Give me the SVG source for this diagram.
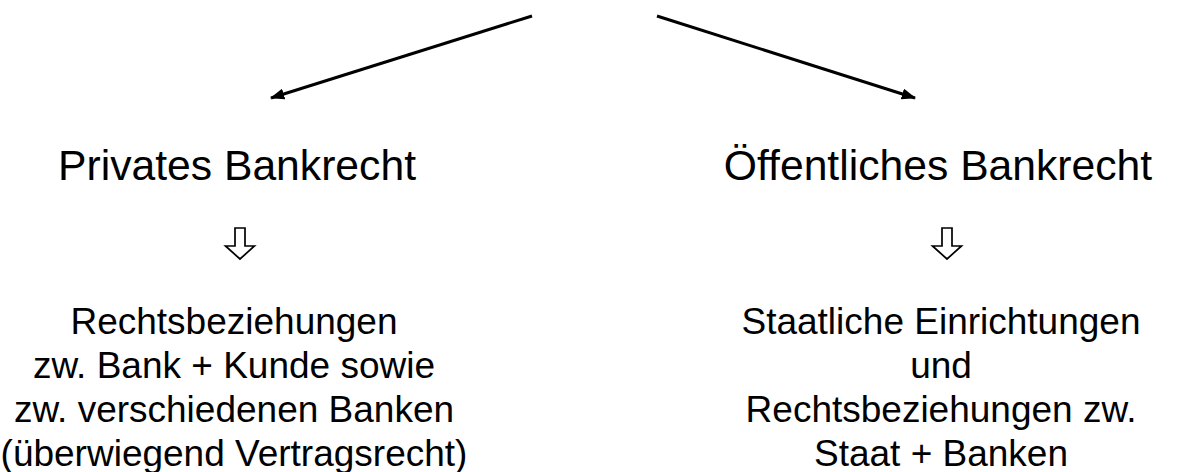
<svg xmlns="http://www.w3.org/2000/svg" width="1178" height="472" viewBox="0 0 1178 472">
  <style>
    text { font-family: "Liberation Sans", Arial, sans-serif; fill: #000; text-anchor: middle; }
    .title { font-size: 42.67px; }
    .body { font-size: 37px; }
    .conn { stroke: #000; stroke-width: 3; fill: none; }
    .hollow { fill: #fff; stroke: #000; stroke-width: 1.7; stroke-linejoin: miter; }
  </style>
  <defs>
    <marker id="head" viewBox="0 0 13 10" refX="12" refY="5" markerWidth="4.8" markerHeight="3.7" orient="auto" markerUnits="strokeWidth">
      <path d="M0,0 L13,5 L0,10 z" fill="#000"/>
    </marker>
    <!-- hollow downward arrow, origin at top centre of the stem -->
    <path id="downArrow" class="hollow" d="M-5,0 H5 V18 H14.5 L0,31 L-14.5,18 H-5 Z"/>
  </defs>
  <rect width="1178" height="472" fill="#fff"/>

  <g id="connectors">
    <line class="conn" x1="532" y1="16" x2="271" y2="98" marker-end="url(#head)"/>
    <line class="conn" x1="657" y1="16" x2="915" y2="98" marker-end="url(#head)"/>
  </g>

  <g id="privat">
    <text class="title" x="237" y="180">Privates Bankrecht</text>
    <use href="#downArrow" x="240" y="228"/>
    <text class="body" x="234" y="334">Rechtsbeziehungen</text>
    <text class="body" x="234" y="378">zw. Bank + Kunde sowie</text>
    <text class="body" x="234" y="422">zw. verschiedenen Banken</text>
    <text class="body" x="234" y="466">(überwiegend Vertragsrecht)</text>
  </g>

  <g id="oeffentlich">
    <text class="title" x="938" y="180">Öffentliches Bankrecht</text>
    <use href="#downArrow" x="947" y="228"/>
    <text class="body" x="941" y="334">Staatliche Einrichtungen</text>
    <text class="body" x="941" y="378">und</text>
    <text class="body" x="941" y="422">Rechtsbeziehungen zw.</text>
    <text class="body" x="941" y="466">Staat + Banken</text>
  </g>
</svg>
